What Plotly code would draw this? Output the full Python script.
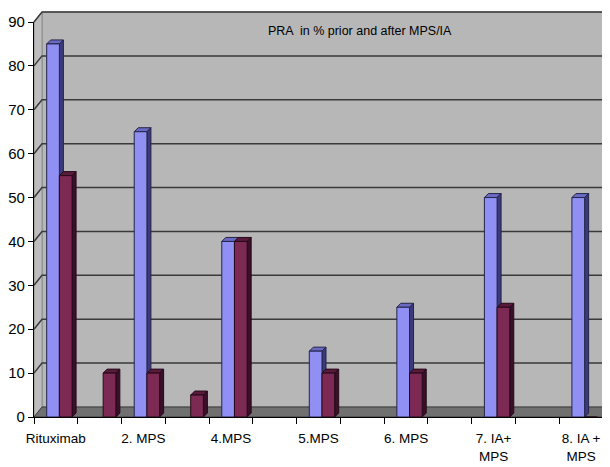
import plotly.graph_objects as go

# ---- data ----
positions = list(range(13))
tick_labels = ["Rituximab", "", "2. MPS", "", "4.MPS", "", "5.MPS", "",
               "6. MPS", "", "7. IA+<br>MPS", "", "8. IA +<br>MPS"]
prior = [85, None, 65, None, 40, None, 15, None, 25, None, 50, None, 50]
after = [55, 10, 10, 5, 40, None, 10, None, 10, None, 25, None, 0]
y_ticks = [0, 10, 20, 30, 40, 50, 60, 70, 80, 90]
title_text = "PRA  in % prior and after MPS/IA"

# ---- geometry (window pixels; page body has an 8px default margin) ----
OFF = 8
WIN_W, WIN_H = 610, 467
W, H = WIN_W - OFF, WIN_H - OFF
PX0, PX1 = 34, 603      # plot area left/right in window px
PY0, PY1 = 417, 22      # plot area bottom/top in window px
L, R = PX0 - OFF, WIN_W - PX1
T, B = PY1 - OFF, WIN_H - PY0
pw, ph = PX1 - PX0, PY0 - PY1
xmin, xmax = -0.5, 12.5
ymin, ymax = 0, 90
xu = pw / (xmax - xmin)
yu = ph / (ymax - ymin)
bdx, bdy = 4 / xu, 4 / yu   # bar depth in data units
wdx, wdy = 8, 10            # wall depth in px

def px2paper(px, py):
    return (px - PX0) / pw, (PY0 - py) / ph

fig = go.Figure()

bw = 0.29
series = [
    ("prior", prior, -0.21, "#9090F4", "#6A6AC2", "#3A3A7C", "#24244A"),
    ("after", after, 0.08, "#7C2A54", "#5A1A3C", "#3A1028", "#250A18"),
]

shapes = []

def poly(pts, fill, line, width=1, layer="below"):
    p = []
    for i, (px, py) in enumerate(pts):
        xp, yp = px2paper(px, py)
        p.append(("M" if i == 0 else "L") + f"{xp:.5f},{yp:.5f}")
    shapes.append(dict(type="path", path=" ".join(p) + " Z", xref="paper", yref="paper",
                       fillcolor=fill, line=dict(color=line, width=width), layer=layer))

x0f, x1f = PX0, PX1
y0f, y1f = PY0, PY1
# back wall
poly([(x0f + wdx, y0f - wdy), (x1f + wdx - 4, y0f - wdy), (x1f + wdx - 4, y1f - wdy),
      (x0f + wdx, y1f - wdy)], "#B7B7B7", "#8A8A8A")
# side wall
poly([(x0f, y0f), (x0f, y1f), (x0f + wdx, y1f - wdy), (x0f + wdx, y0f - wdy)],
     "#BDBDBD", "#8A8A8A")
# floor
poly([(x0f, y0f), (x0f + wdx, y0f - wdy), (x1f + wdx - 4, y0f - wdy), (x1f, y0f)],
     "#707070", "#3C3C3C")

# gridlines on walls
for v in y_ticks[1:]:
    yf = y0f - v * yu
    yb = yf - wdy
    a = px2paper(x0f, yf)
    b = px2paper(x0f + wdx, yb)
    c = px2paper(x1f + wdx - 4, yb)
    shapes.append(dict(type="path",
                       path=f"M{a[0]:.5f},{a[1]:.5f} L{b[0]:.5f},{b[1]:.5f} L{c[0]:.5f},{c[1]:.5f}",
                       xref="paper", yref="paper", line=dict(color="#3A3A3A", width=1.5),
                       layer="below"))

for name, vals, off, front, top, side, edge in series:
    fig.add_trace(go.Bar(
        x=positions, y=vals, name=name, offset=off, width=bw,
        marker=dict(color=front, line=dict(color=edge, width=1)),
        showlegend=False, hoverinfo="x+y",
    ))
    for xi, v in zip(positions, vals):
        if not v:
            continue
        xl = xi + off
        xr = xl + bw
        shapes.append(dict(type="path", xref="x", yref="y", layer="below",
                           path=f"M{xl},{v} L{xr},{v} L{xr+bdx},{v+bdy} L{xl+bdx},{v+bdy} Z",
                           fillcolor=top, line=dict(color=edge, width=1)))
        shapes.append(dict(type="path", xref="x", yref="y", layer="below",
                           path=f"M{xr},0 L{xr+bdx},{bdy} L{xr+bdx},{v+bdy} L{xr},{v} Z",
                           fillcolor=side, line=dict(color=edge, width=1)))

font_fam = "Liberation Sans Narrow, Liberation Sans, Arial, sans-serif"
label_pos = [p for p, t in zip(positions, tick_labels) if t]
label_txt = [t for t in tick_labels if t]

fig.update_layout(
    width=W, height=H, autosize=False,
    margin=dict(l=L, r=R, t=T, b=B, pad=0, autoexpand=False),
    paper_bgcolor="white", plot_bgcolor="rgba(0,0,0,0)",
    barmode="overlay",
    shapes=shapes,
    font=dict(family=font_fam, color="black", size=13),
    xaxis=dict(range=[xmin, xmax], tickvals=label_pos, ticktext=label_txt,
               automargin=False, fixedrange=True, ticklabelstandoff=9,
               ticks="", showgrid=False, zeroline=False, showline=True,
               linecolor="black", linewidth=1.2, tickfont=dict(size=13.5),
               minor=dict(tickvals=[i - 0.5 for i in range(14)], ticks="outside",
                          ticklen=6, tickcolor="black", tickwidth=1.2, showgrid=False)),
    yaxis=dict(range=[ymin, ymax], tickvals=y_ticks, ticks="outside", ticklen=5,
               automargin=False, fixedrange=True,
               tickcolor="black", tickwidth=1.2, showgrid=False, zeroline=False,
               showline=True, linecolor="black", linewidth=1.2,
               tickfont=dict(size=15)),
    annotations=[dict(text=title_text, xref="paper", yref="paper",
                      x=px2paper(360, 31)[0], y=px2paper(360, 31)[1],
                      xanchor="center", yanchor="middle",
                      showarrow=False, font=dict(size=12.5, family=font_fam))],
)

fig.write_html("out.html")
